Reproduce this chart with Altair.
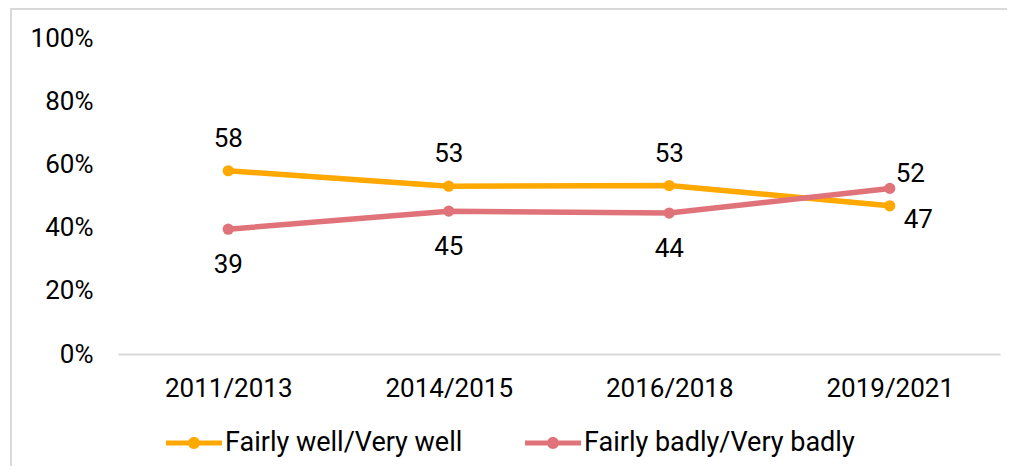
import altair as alt
import pandas as pd

periods = ["2011/2013", "2014/2015", "2016/2018", "2019/2021"]
series_names = ["Fairly well/Very well", "Fairly badly/Very badly"]
well_values = [58.0, 53.1, 53.3, 46.9]
badly_values = [39.5, 45.2, 44.6, 52.4]
well_labels = ["58", "53", "53", "47"]
badly_labels = ["39", "45", "44", "52"]
y_ticks = [0, 20, 40, 60, 80, 100]
colors = ["#FFA800", "#E07379"]

rows = []
for i, p in enumerate(periods):
    rows.append({"period": p, "series": series_names[0], "value": well_values[i], "label": well_labels[i], "idx": i})
    rows.append({"period": p, "series": series_names[1], "value": badly_values[i], "label": badly_labels[i], "idx": i})
df = pd.DataFrame(rows)

FONT = "Roboto"
FS = 26

x_enc = alt.X("period:N", sort=periods, title=None,
              scale=alt.Scale(type="point", padding=0.5),
              axis=alt.Axis(labelAngle=0, ticks=False, domainColor="#d9d9d9", domainWidth=2,
                            labelPadding=21, labelFont=FONT, labelFontSize=FS, labelColor="#000000"))
y_enc = alt.Y("value:Q", title=None,
              scale=alt.Scale(domain=[0, 100], nice=False),
              axis=alt.Axis(values=y_ticks, labelExpr="datum.value + '%'", ticks=False, domain=False,
                            grid=False, labelPadding=25, labelFont=FONT, labelFontSize=FS,
                            labelColor="#000000"))

legend_symbol = ("M-1,-0.09H1V0.09H-1Z "
                 "M0.214,0A0.214,0.214 0 1,1 -0.214,0A0.214,0.214 0 1,1 0.214,0Z")

base = alt.Chart(df)

# stroke scale listed in reverse order so it is not merged with the (shown) fill legend
lines = base.mark_line(strokeWidth=5.5).encode(
    x=x_enc, y=y_enc,
    stroke=alt.Stroke("series:N",
                      scale=alt.Scale(domain=series_names[::-1], range=colors[::-1]),
                      legend=None),
    detail="series:N",
)

points = base.mark_point(filled=True, size=125, opacity=1, strokeWidth=0).encode(
    x=x_enc, y=y_enc,
    fill=alt.Fill("series:N", scale=alt.Scale(domain=series_names, range=colors),
                  legend=alt.Legend(title=None, orient="none", direction="horizontal",
                                    legendX=48, legendY=377, symbolType=legend_symbol,
                                    symbolSize=3136, symbolStrokeWidth=0, symbolOpacity=1,
                                    labelFont=FONT, labelFontSize=27, labelColor="#000000",
                                    labelOffset=3, columnPadding=62, labelLimit=600, padding=0)),
)

def text_layer(series, cond, dx, dy):
    return base.transform_filter(
        (alt.datum.series == series) & cond
    ).mark_text(font=FONT, fontSize=FS, color="#000000", dx=dx, dy=dy,
                align="center" if dx == 0 else "left", baseline="alphabetic").encode(
        x=x_enc, y=y_enc, text="label:N"
    )

t1 = text_layer(series_names[0], alt.datum.idx < 3, 0, -24)
t2 = text_layer(series_names[1], alt.datum.idx < 3, 0, 44)
t3 = text_layer(series_names[0], alt.datum.idx == 3, 14, 22)
t4 = text_layer(series_names[1], alt.datum.idx == 3, 6, -6)

one = pd.DataFrame({"a": [0]})
border_top = alt.Chart(one).mark_rule(stroke="#d9d9d9", strokeWidth=2).encode(
    x=alt.value(-108), x2=alt.value(900), y=alt.value(-29))
border_left = alt.Chart(one).mark_rule(stroke="#d9d9d9", strokeWidth=2).encode(
    x=alt.value(-107), y=alt.value(-30), y2=alt.value(440))

chart = alt.layer(border_top, border_left, lines, points, t1, t2, t3, t4).properties(
    width=882, height=316,
    autosize=alt.AutoSizeParams(type="none"),
    padding={"left": 110, "top": 30, "right": 7, "bottom": 112},
    background="#ffffff",
).configure_view(strokeWidth=0, stroke="transparent")

chart.save("out.html", embed_options={"renderer": "svg", "actions": False})
